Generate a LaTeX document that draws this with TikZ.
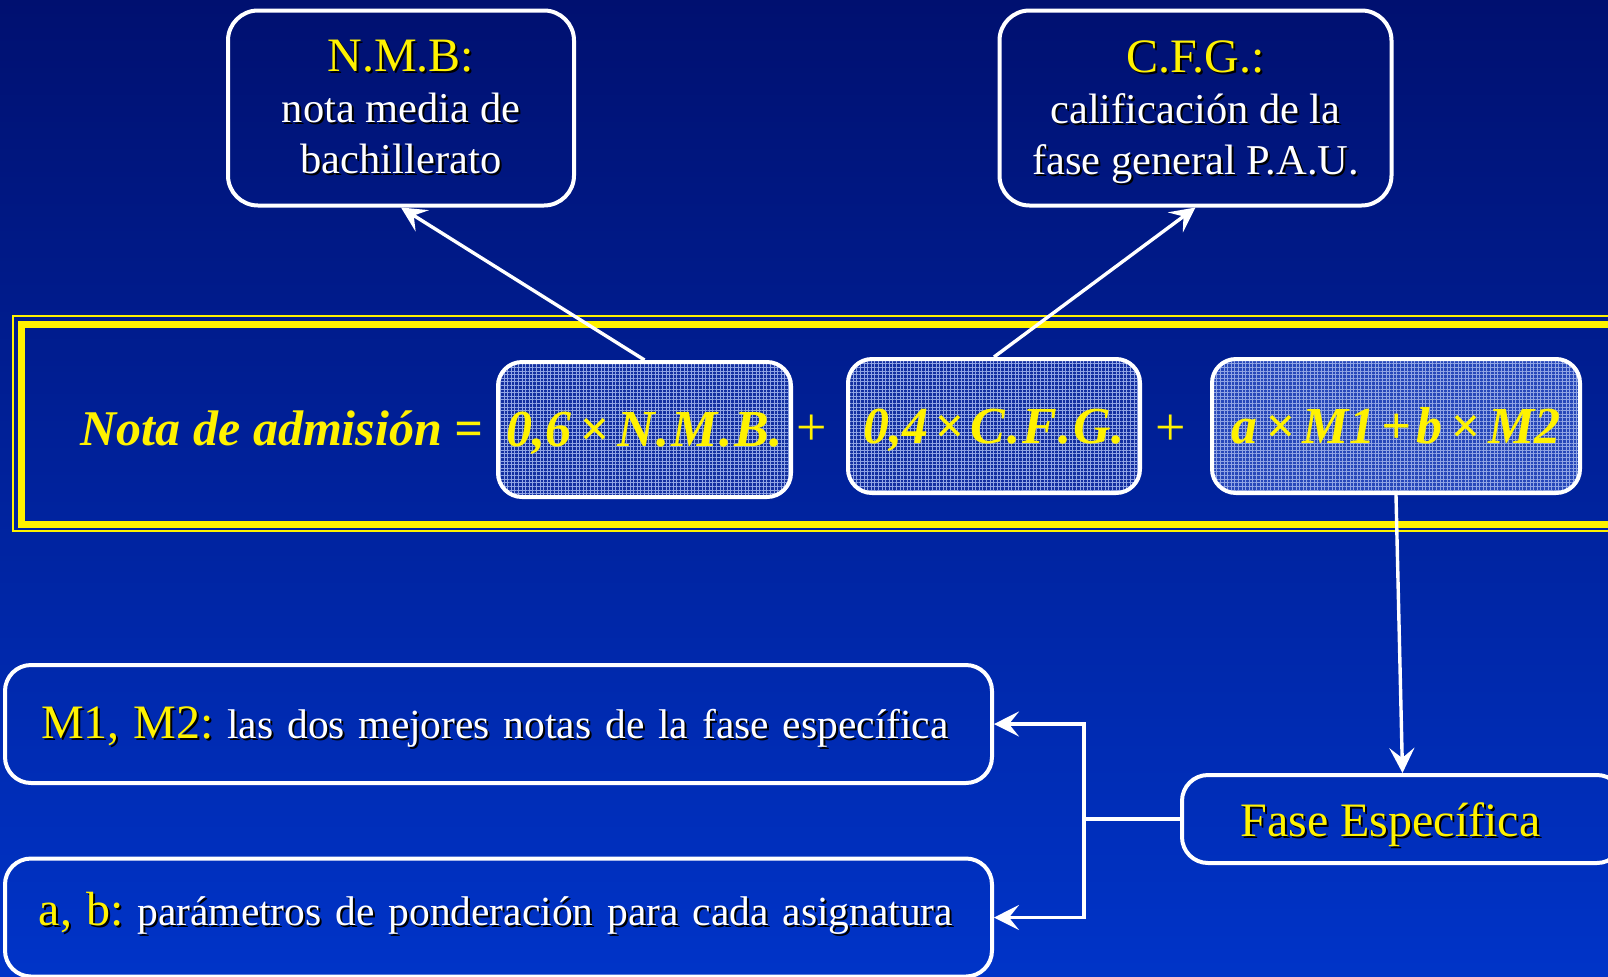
\documentclass[tikz,border=0pt]{standalone}
\usepackage{fontspec}
\setmainfont{Liberation Serif}
\usetikzlibrary{arrows.meta,patterns.meta}

\definecolor{bgtop}{RGB}{0,16,112}
\definecolor{bgbot}{RGB}{0,52,200}
\definecolor{gridAB}{RGB}{20,48,160}
\definecolor{gridC}{RGB}{40,72,185}
\definecolor{gridline}{RGB}{145,165,228}

% text with a small black drop shadow
\newcommand\shad[2]{\leavevmode\rlap{\kern1pt\raisebox{-1pt}{\color{black}#2}}{\color{#1}#2}}
\newcommand\nodepth[1]{\raisebox{0pt}[\height][0pt]{#1}}

\tikzset{
  rbox/.style={draw=white, line width=2pt, rounded corners=15pt, inner sep=0pt,
    font=\fontsize{21.25}{25.5}\selectfont},
  fbox/.style={draw=white, line width=2pt, rounded corners=12pt, inner sep=0pt,
    font=\fontsize{26}{30}\selectfont\bfseries\itshape, text=yellow,
    text height=17pt, text depth=0pt,
    preaction={fill=#1},
    preaction={pattern={Hatch[angle=0,distance=1.8pt,line width=0.5pt]}, pattern color=gridline}},
  fbox/.default=gridAB,
  conn/.style={draw=white, line width=1.7pt},
  arr/.style={conn, -{Stealth[length=12.5pt,width=12.5pt,inset=5pt]}},
}

\begin{document}
\frenchspacing
\begin{tikzpicture}[x=0.5pt,y=-0.5pt]
\useasboundingbox (0,0) rectangle (1608,976);
\clip (0,0) rectangle (1608,976);
\shade[top color=bgtop,bottom color=bgbot] (0,0) rectangle (1608,976);

% double yellow frame
\draw[yellow, line width=1.3pt] (13,316) rectangle (1640,531);
\draw[yellow, line width=3.5pt] (21,324) rectangle (1640,524);

% definitions on top
\node[rbox, align=center, minimum width=173pt, minimum height=97.5pt] (nmb) at (401,108)
  {\shad{yellow}{\fontsize{24}{25.5}\selectfont N.M.B:}\\ \shad{white}{nota media de}\\ \shad{white}{bachillerato}};
\node[rbox, align=center, minimum width=196pt, minimum height=97.5pt] (cfg) at (1195.5,108)
  {\shad{yellow}{\fontsize{24}{25.5}\selectfont C.F.G.:}\\ \shad{white}{calificación de la}\\ \nodepth{\shad{white}{fase general P.A.U.}}};

% formula
\node[font=\fontsize{25}{30}\selectfont\bfseries\itshape, text=yellow, anchor=base east] (nota) at (490,445) {Nota de admisión =};
\node[fbox, minimum width=146.5pt, minimum height=67.5pt] (fa) at (644.5,429.5)
  {0,6\kern4pt×\kern4pt N\kern1pt.\kern1pt M\kern1pt.\kern1pt B.};
\node[text=yellow, font=\fontsize{27}{30}\selectfont] (plusA) at (812,430) {+};
\node[fbox, minimum width=146pt, minimum height=67pt] (fb) at (994,426)
  {0,4\kern3pt×\kern3pt C\kern1pt.\kern1pt F\kern1pt.\kern1pt G.};
\node[text=yellow, font=\fontsize{27}{30}\selectfont] (plusB) at (1171,430) {+};
\node[fbox=gridC, minimum width=184pt, minimum height=67pt] (fc) at (1396,426)
  {a\kern4pt×\kern4pt M1\kern3pt+\kern3pt b\kern4pt×\kern4pt M2};

% bottom boxes
\node[rbox, rounded corners=13pt, minimum width=220.5pt, minimum height=44pt,
  text height=17pt, text depth=0pt] (fase) at (1402.5,819)
  {\shad{yellow}{\fontsize{24}{28}\selectfont Fase Específica}\kern12pt};
\node[rbox, rounded corners=13pt, text width=457.5pt, align=left, inner xsep=18pt, minimum height=59pt,
  text height=14pt, text depth=0pt, font=\fontsize{20.75}{25}\selectfont] (m12) at (498.5,724)
  {\mbox{\shad{yellow}{\fontsize{24}{28}\selectfont M1, M2:} \shad{white}{las dos mejores notas de la fase específica}}};
\node[rbox, rounded corners=13pt, text width=459.5pt, align=left, inner xsep=17pt, minimum height=59pt,
  text height=8pt, text depth=0pt, font=\fontsize{20.75}{25}\selectfont] (ab) at (498.5,917.5)
  {\mbox{\shad{yellow}{\fontsize{24}{28}\selectfont a, b:} \shad{white}{parámetros de ponderación para cada asignatura}}};

% connectors
\draw[arr] (fa.north) -- (nmb.south);
\draw[arr] (fb.north) -- (cfg.south);
\draw[arr] (fc.south) -- (fase.north);
\draw[conn] (fase.west) -- ++(-96,0) coordinate (fork);
\draw[arr] (fork) |- (m12.east);
\draw[arr] (fork) |- (ab.east);
\end{tikzpicture}
\end{document}
